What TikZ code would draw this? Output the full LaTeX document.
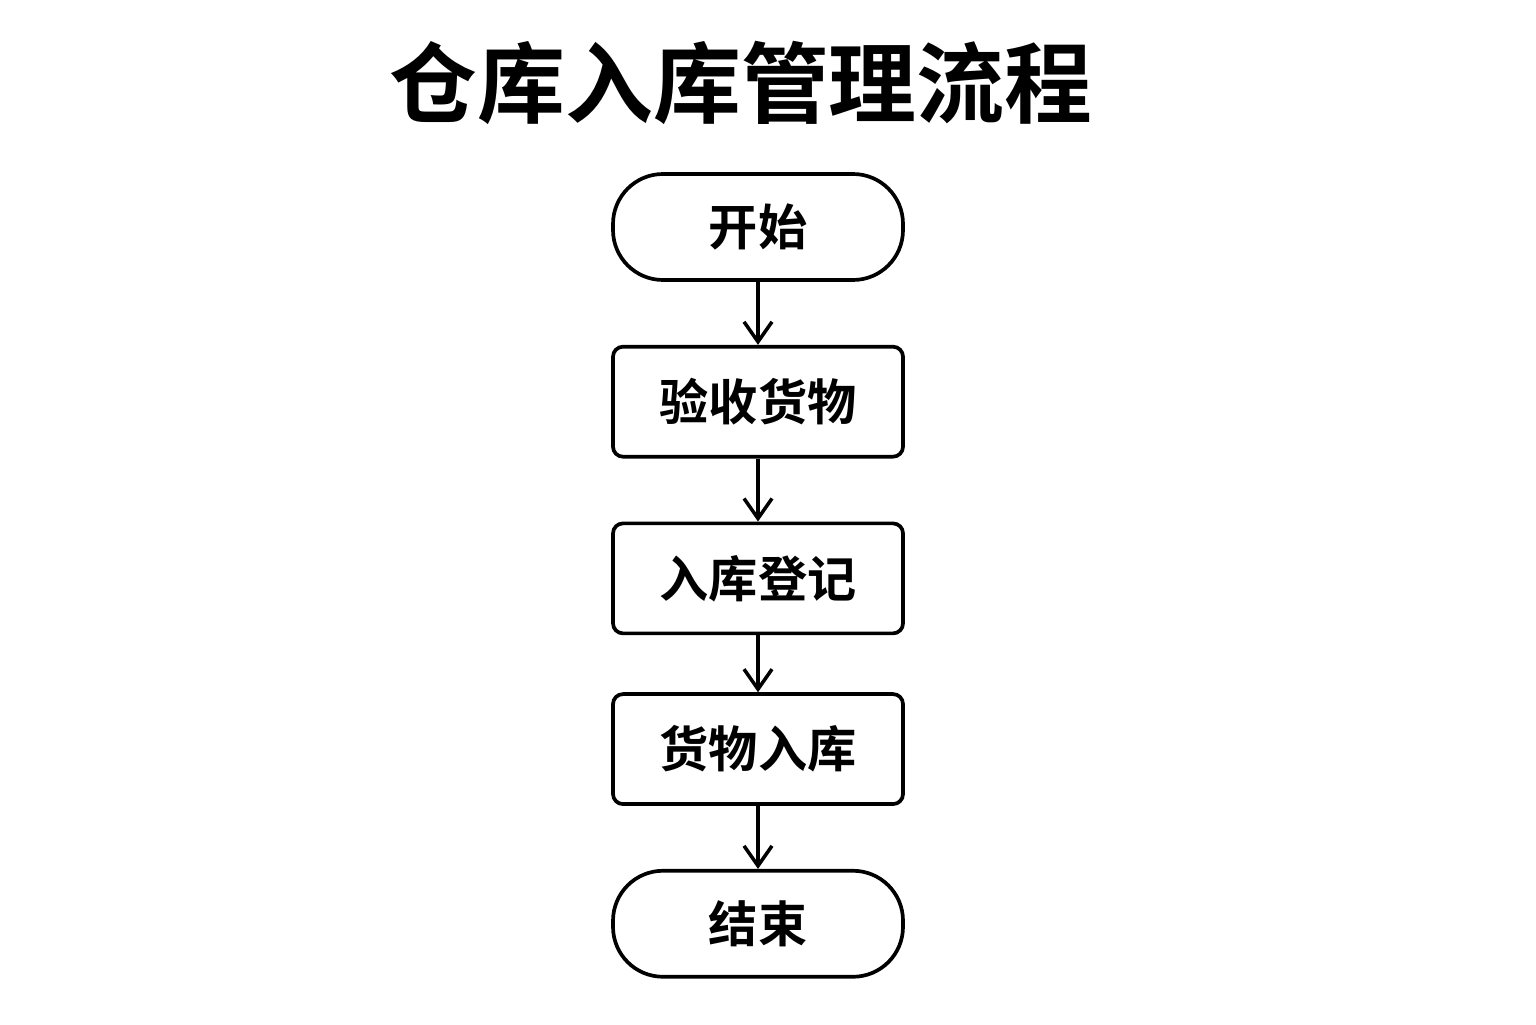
\documentclass[tikz,border=0pt]{standalone}
\usepackage{fontspec}
\setmainfont{Noto Sans CJK SC}[BoldFont={* Bold}]
\usetikzlibrary{arrows.meta,positioning}

\begin{document}
\begin{tikzpicture}[
        term/.style={draw, line width=1.05pt, rounded corners=0.5cm, minimum width=2.9cm, minimum height=1.06cm, align=center, font=\fontsize{14pt}{16pt}\selectfont\bfseries},
        proc/.style={draw, line width=1.05pt, rounded corners=0.1cm, minimum width=2.9cm, minimum height=1.1cm, align=center, font=\fontsize{14pt}{16pt}\selectfont\bfseries},
        arr/.style={-{Straight Barb[length=2mm,width=2.8mm]}, line width=1pt}
      ]
        \useasboundingbox (0,0) rectangle (15.36,10.24);
        \node[font=\fontsize{25pt}{28pt}\selectfont\bfseries] (title) at (7.41,9.41) {仓库入库管理流程};
        \node[term] (start) at (7.58,7.97) {开始};
        \node[proc,below=0.63cm of start] (check) {验收货物};
        \node[proc,below=0.63cm of check] (reg) {入库登记};
        \node[proc,below=0.57cm of reg] (store) {货物入库};
        \node[term,below=0.63cm of store] (stop) {结束};
        \draw[arr] (start) -- (check);
        \draw[arr] (check) -- (reg);
        \draw[arr] (reg) -- (store);
        \draw[arr] (store) -- (stop);
      \end{tikzpicture}
\end{document}
